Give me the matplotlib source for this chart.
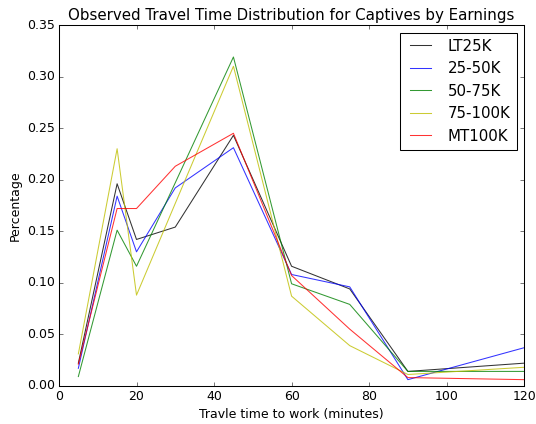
import matplotlib
matplotlib.use("Agg")
import matplotlib.pyplot as plt

plt.style.use('classic')

times = [5, 15, 20, 30, 45, 60, 75, 90, 120]
labels = ['LT25K', '25-50K', '50-75K', '75-100K', 'MT100K']
colors = ['k', 'b', 'g', 'y', 'r']

lt25k = [0.022, 0.196, 0.142, 0.154, 0.243, 0.116, 0.094, 0.014, 0.022]
k25_50 = [0.017, 0.184, 0.130, 0.192, 0.231, 0.108, 0.096, 0.006, 0.037]
k50_75 = [0.009, 0.151, 0.116, 0.197, 0.319, 0.099, 0.079, 0.014, 0.014]
k75_100 = [0.031, 0.230, 0.088, 0.177, 0.310, 0.087, 0.039, 0.011, 0.018]
mt100k = [0.021, 0.172, 0.172, 0.213, 0.245, 0.107, 0.055, 0.008, 0.006]

series = [lt25k, k25_50, k50_75, k75_100, mt100k]

DPI = 75
fig = plt.figure(figsize=(536 / DPI, 424 / DPI), dpi=DPI)
ax = fig.add_axes([0.110, 0.090, 0.868, 0.851])

for vals, lab, c in zip(series, labels, colors):
    ax.plot(times, vals, color=c, alpha=0.8, label=lab)

ax.set_xlim(0, 120)
ax.set_ylim(0, 0.35)
ax.set_title('Observed Travel Time Distribution for Captives by Earnings')
ax.set_xlabel('Travle time to work (minutes)')
ax.set_ylabel('Percentage')
ax.legend(loc='upper right')

fig.savefig('out.png', dpi=DPI)
